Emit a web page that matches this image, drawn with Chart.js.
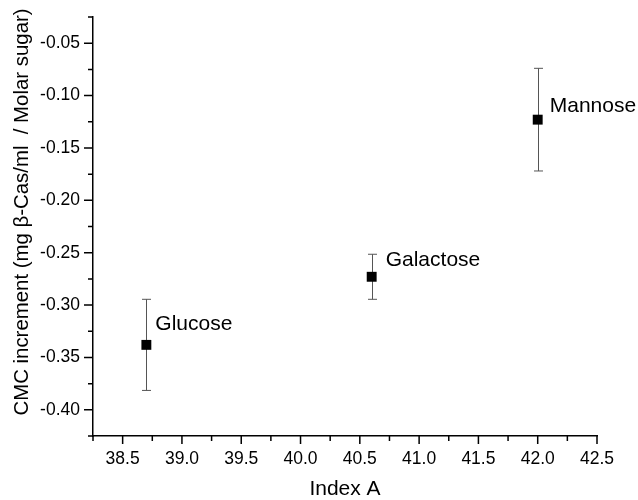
<!DOCTYPE html>
<html>
<head>
<meta charset="utf-8">
<script src="https://cdn.jsdelivr.net/npm/chart.js@4"></script>
<style>
  html, body { margin: 0; padding: 0; background: #fff; }
  #wrap { width: 638px; height: 500px; }
</style>
</head>
<body>
<div id="wrap"><canvas id="cmcChart"></canvas></div>
<script>
// Sugars and measured values
const sugars = ["Glucose", "Galactose", "Mannose"];
const indexA = [38.7, 40.6, 42.0];
const cmcIncrement = [-0.338, -0.273, -0.123];
const cmcError = [0.0435, 0.0215, 0.049];

// Axis ticks (labelled ones)
const xTicks = [38.5, 39.0, 39.5, 40.0, 40.5, 41.0, 41.5, 42.0, 42.5];
const yTicks = [-0.05, -0.10, -0.15, -0.20, -0.25, -0.30, -0.35, -0.40];

// minor ticks sit halfway between the labelled ones
const xMinor = xTicks.map(v => v - 0.25);
const yMinor = yTicks.map(v => v + 0.025).concat([-0.425]);

const tickFont = { family: "'Liberation Sans', Arial, sans-serif", size: 17.5 };
const textFont = "21px 'Liberation Sans', Arial, sans-serif";

// label offsets from each marker (px)
const labelOffsets = [[9, -21], [14, -17], [12, -13]];

// Draw error bars, tick marks, point labels and y title
const decorations = {
  id: "decorations",
  beforeDatasetsDraw(chart) {
    const ctx = chart.ctx;
    const xs = chart.scales.x, ys = chart.scales.y;
    ctx.save();
    ctx.strokeStyle = "#555";
    ctx.lineWidth = 1;
    indexA.forEach((x, i) => {
      const px = Math.round(xs.getPixelForValue(x)) + 0.5;
      const top = ys.getPixelForValue(cmcIncrement[i] + cmcError[i]);
      const bot = ys.getPixelForValue(cmcIncrement[i] - cmcError[i]);
      ctx.beginPath();
      ctx.moveTo(px, top);
      ctx.lineTo(px, bot);
      ctx.moveTo(px - 4.5, top);
      ctx.lineTo(px + 4.5, top);
      ctx.moveTo(px - 4.5, bot);
      ctx.lineTo(px + 4.5, bot);
      ctx.stroke();
    });
    ctx.restore();
  },
  afterDatasetsDraw(chart) {
    const ctx = chart.ctx;
    const xs = chart.scales.x, ys = chart.scales.y;
    ctx.save();
    ctx.fillStyle = "#000";
    ctx.font = textFont;
    ctx.textAlign = "left";
    ctx.textBaseline = "middle";
    sugars.forEach((name, i) => {
      const px = xs.getPixelForValue(indexA[i]);
      const py = ys.getPixelForValue(cmcIncrement[i]);
      ctx.fillText(name, px + labelOffsets[i][0], py + labelOffsets[i][1]);
    });
    ctx.restore();
  },
  afterDraw(chart) {
    const ctx = chart.ctx;
    const area = chart.chartArea;
    const xs = chart.scales.x, ys = chart.scales.y;
    ctx.save();
    ctx.strokeStyle = "#000";
    ctx.lineWidth = 1.5;
    ctx.beginPath();
    xs.ticks.forEach(t => {
      const px = xs.getPixelForValue(t.value);
      const len = xTicks.includes(t.value) ? 8 : 5;
      ctx.moveTo(px, area.bottom);
      ctx.lineTo(px, area.bottom + len);
    });
    ys.ticks.forEach(t => {
      const py = ys.getPixelForValue(t.value);
      const len = yTicks.includes(t.value) ? 9 : 5;
      ctx.moveTo(area.left, py);
      ctx.lineTo(area.left - len, py);
    });
    ctx.stroke();

    // y axis title
    ctx.fillStyle = "#000";
    ctx.font = "20.4px 'Liberation Sans', Arial, sans-serif";
    ctx.textAlign = "center";
    ctx.textBaseline = "middle";
    ctx.translate(22, 212);
    ctx.rotate(-Math.PI / 2);
    ctx.fillText("CMC increment (mg \u03b2-Cas/ml  / Molar sugar)", 0, 0);
    ctx.restore();
  }
};

const ctx = document.getElementById("cmcChart").getContext("2d");
const chart = new Chart(ctx, {
  type: "scatter",
  data: {
    datasets: [
      {
        label: "CMC increment",
        data: indexA.map((x, i) => ({ x: x, y: cmcIncrement[i] })),
        pointStyle: "rect",
        pointRadius: 7,
        pointHoverRadius: 7,
        backgroundColor: "#000",
        borderColor: "#000",
        borderWidth: 0,
      },
    ],
  },
  options: {
    responsive: true,
    maintainAspectRatio: false,
    animation: false,
    layout: { padding: { top: 17, right: 41, left: 0, bottom: 0 } },
    plugins: {
      legend: { display: false },
      tooltip: { enabled: false },
    },
    scales: {
      x: {
        type: "linear",
        min: 38.25,
        max: 42.5,
        afterBuildTicks: scale => {
          scale.ticks = xMinor.concat(xTicks).sort((a, b) => a - b).map(v => ({ value: v }));
        },
        afterFit: scale => { scale.height = 64; },
        grid: { drawOnChartArea: false, drawTicks: true, tickLength: 8, tickColor: "transparent" },
        border: { display: true, color: "#000", width: 1.5 },
        ticks: {
          color: "#000",
          font: tickFont,
          padding: 5,
          maxRotation: 0,
          autoSkip: false,
          callback: v => (xTicks.includes(v) ? v.toFixed(1) : ""),
        },
        title: {
          display: true,
          text: "Index A",
          color: "#000",
          font: { family: "'Liberation Sans', Arial, sans-serif", size: 21, lineHeight: 1.0 },
          padding: { top: 0, bottom: 0 },
        },
      },
      y: {
        type: "linear",
        min: -0.425,
        max: -0.025,
        afterBuildTicks: scale => {
          scale.ticks = yMinor.concat(yTicks).sort((a, b) => a - b).map(v => ({ value: v }));
        },
        afterFit: scale => { scale.width = 93; },
        grid: { drawOnChartArea: false, drawTicks: true, tickLength: 9, tickColor: "transparent" },
        border: { display: true, color: "#000", width: 1.5 },
        ticks: {
          color: "#000",
          font: tickFont,
          padding: 4,
          autoSkip: false,
          callback: v => (yTicks.includes(v) ? v.toFixed(2) : ""),
        },
        title: { display: false },
      },
    },
  },
  plugins: [decorations],
});
</script>
</body>
</html>
